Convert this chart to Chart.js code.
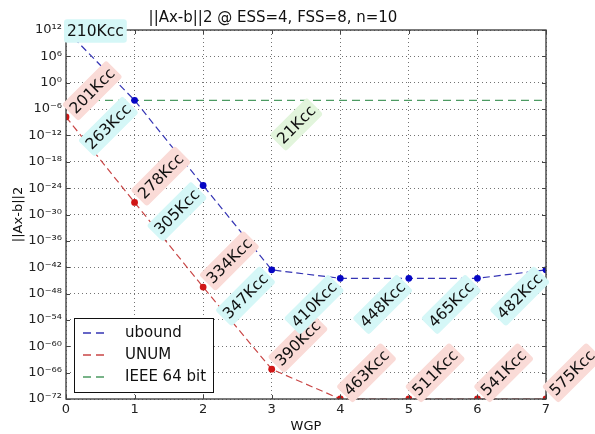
<!DOCTYPE html>
<html>
<head>
<meta charset="utf-8">
<script src="https://cdn.jsdelivr.net/npm/chart.js@4.4.1/dist/chart.umd.min.js"></script>
<style>
html,body{margin:0;padding:0;background:#fff;}
canvas{display:block;}
</style>
</head>
<body>
<canvas id="c" width="595" height="434"></canvas>
<script>
// ---- data ----
const wgp = [0, 1, 2, 3, 4, 5, 6, 7];
const uboundValues = [1e12, 1e-4, 4e-24, 2.5e-43, 3e-45, 3e-45, 3e-45, 2.5e-43];
const unumValues = [1.6e-8, 5.6e-28, 3e-47, 6e-66, 1e-72, 1e-72, 1e-72, 1e-72];
const ieeeValues = [1e-4, 1e-4, 1e-4, 1e-4, 1e-4, 1e-4, 1e-4, 1e-4];
const uboundLabels = ['210Kcc', '263Kcc', '305Kcc', '347Kcc', '410Kcc', '448Kcc', '465Kcc', '482Kcc'];
const unumLabels = ['201Kcc', '278Kcc', '334Kcc', '390Kcc', '463Kcc', '511Kcc', '541Kcc', '575Kcc'];
const ieeeLabel = '21Kcc';
const seriesNames = ['ubound', 'UNUM', 'IEEE 64 bit'];
const xTickValues = [0, 1, 2, 3, 4, 5, 6, 7];
const yTickExponents = [12, 6, 0, -6, -12, -18, -24, -30, -36, -42, -48, -54, -60, -66, -72];
const titleText = '||Ax-b||2 @ ESS=4, FSS=8, n=10';
const xTitleText = 'WGP';
const yTitleText = '||Ax-b||2';

// ---- styling ----
const FONT = '"DejaVu Sans", "Liberation Sans", sans-serif';
const BLUE_LINE = '#3434b4', BLUE_PT = '#0606c4';
const RED_LINE = '#c94646', RED_PT = '#d01616';
const GREEN_LINE = '#4c9a62';
const BG_BLUE = '#d5f7f7', BG_RED = '#fadbd7', BG_GREEN = '#e2f5dc';

const SUP = {'0':'⁰','1':'¹','2':'²','3':'³','4':'⁴','5':'⁵','6':'⁶','7':'⁷','8':'⁸','9':'⁹','-':'⁻'};
function sup(n) { return String(n).split('').map(c => SUP[c] || c).join(''); }

function toPoints(vals) { return wgp.map((x, i) => ({x: x, y: vals[i]})); }

function roundRect(ctx, x, y, w, h, r) {
  ctx.beginPath();
  ctx.moveTo(x + r, y);
  ctx.lineTo(x + w - r, y); ctx.quadraticCurveTo(x + w, y, x + w, y + r);
  ctx.lineTo(x + w, y + h - r); ctx.quadraticCurveTo(x + w, y + h, x + w - r, y + h);
  ctx.lineTo(x + r, y + h); ctx.quadraticCurveTo(x, y + h, x, y + h - r);
  ctx.lineTo(x, y + r); ctx.quadraticCurveTo(x, y, x + r, y);
  ctx.closePath();
}

function drawTag(ctx, text, px, py, mode, bg) {
  const fs = 15.5, pad = 3, h = fs * 1.12;
  ctx.save();
  ctx.font = fs + 'px ' + FONT;
  const w = ctx.measureText(text).width;
  let cx, cy, rot;
  if (mode === 'flat') { cx = px + w / 2 + 1; cy = py + 1; rot = 0; }
  else {
    const B = (w + h) / Math.SQRT2;
    if (mode === 'after') { cx = px + B / 2; cy = py - B / 2; }
    else { cx = px - B / 2; cy = py + B / 2; }
    rot = -Math.PI / 4;
  }
  ctx.translate(cx, cy);
  ctx.rotate(rot);
  ctx.fillStyle = bg;
  roundRect(ctx, -w / 2 - pad, -h / 2 - pad, w + 2 * pad, h + 2 * pad, 3);
  ctx.fill();
  ctx.fillStyle = '#111';
  ctx.textAlign = 'center';
  ctx.textBaseline = 'middle';
  ctx.fillText(text, 0, 1);
  ctx.restore();
}

const decorPlugin = {
  id: 'decor',
  afterDatasetsDraw(chart) {
    const ctx = chart.ctx, ca = chart.chartArea;
    const xs = chart.scales.x, ys = chart.scales.y;
    // frame + inward ticks
    ctx.save();
    ctx.strokeStyle = '#444';
    ctx.lineWidth = 1;
    ctx.beginPath();
    xTickValues.forEach(v => {
      const px = Math.round(xs.getPixelForValue(v)) + 0.5;
      ctx.moveTo(px, ca.top); ctx.lineTo(px, ca.top + 4);
      ctx.moveTo(px, ca.bottom); ctx.lineTo(px, ca.bottom - 4);
    });
    yTickExponents.forEach(e => {
      const py = Math.round(ys.getPixelForValue(Math.pow(10, e))) + 0.5;
      ctx.moveTo(ca.left, py); ctx.lineTo(ca.left + 4, py);
      ctx.moveTo(ca.right, py); ctx.lineTo(ca.right - 4, py);
    });
    ctx.stroke();
    ctx.lineWidth = 1.4;
    ctx.strokeRect(ca.left, ca.top, ca.right - ca.left, ca.bottom - ca.top);
    ctx.restore();

    // annotations
    const mRed = chart.getDatasetMeta(1).data;
    mRed.forEach((p, i) => drawTag(ctx, unumLabels[i], p.x, p.y, 'after', BG_RED));
    const gx = xs.getPixelForValue(3.69), gy = ys.getPixelForValue(ieeeValues[0]) + 1.5;
    drawTag(ctx, ieeeLabel, gx, gy, 'before', BG_GREEN);
    const mBlue = chart.getDatasetMeta(0).data;
    mBlue.forEach((p, i) => drawTag(ctx, uboundLabels[i], p.x, p.y, i === 0 ? 'flat' : 'before', BG_BLUE));

    // legend
    const lx = ca.left + 8, ly = ca.bottom - 81, lw = 139, lh = 74;
    ctx.save();
    ctx.fillStyle = '#fff';
    ctx.fillRect(lx, ly, lw, lh);
    ctx.strokeStyle = '#111';
    ctx.lineWidth = 1;
    ctx.strokeRect(lx + 0.5, ly + 0.5, lw, lh);
    const colors = [BLUE_LINE, RED_LINE, GREEN_LINE];
    ctx.font = '15px ' + FONT;
    ctx.textBaseline = 'middle';
    ctx.textAlign = 'left';
    seriesNames.forEach((name, i) => {
      const yy = ly + 15 + i * 22;
      ctx.strokeStyle = colors[i];
      ctx.lineWidth = 1.3;
      ctx.setLineDash([8, 5]);
      ctx.beginPath(); ctx.moveTo(lx + 9, yy); ctx.lineTo(lx + 31, yy); ctx.stroke();
      ctx.setLineDash([]);
      ctx.fillStyle = '#111';
      ctx.fillText(name, lx + 51, yy);
    });
    ctx.restore();
  }
};

const gridOpts = {color: 'rgba(0,0,0,0.55)', lineWidth: 1, drawTicks: false};

new Chart(document.getElementById('c'), {
  type: 'line',
  data: {
    datasets: [
      {label: seriesNames[0], data: toPoints(uboundValues), borderColor: BLUE_LINE, backgroundColor: BLUE_PT,
       borderWidth: 1.2, borderDash: [7, 4], pointRadius: 3.4, pointBackgroundColor: BLUE_PT, pointBorderWidth: 0, fill: false, tension: 0},
      {label: seriesNames[1], data: toPoints(unumValues), borderColor: RED_LINE, backgroundColor: RED_PT,
       borderWidth: 1.2, borderDash: [7, 4], pointRadius: 3.4, pointBackgroundColor: RED_PT, pointBorderWidth: 0, fill: false, tension: 0},
      {label: seriesNames[2], data: toPoints(ieeeValues), borderColor: GREEN_LINE, backgroundColor: GREEN_LINE,
       borderWidth: 1.3, borderDash: [8, 5], pointRadius: 0, fill: false, tension: 0}
    ]
  },
  options: {
    responsive: false,
    animation: false,
    devicePixelRatio: 1,
    layout: {padding: {left: 0, right: 49, top: 3, bottom: 0}},
    plugins: {
      legend: {display: false},
      tooltip: {enabled: false},
      title: {display: true, text: titleText, color: '#111',
              font: {family: FONT, size: 15, weight: 'normal'}, padding: {top: 6, bottom: 3}}
    },
    scales: {
      x: {
        type: 'linear', min: 0, max: 7,
        afterBuildTicks: s => { s.ticks = xTickValues.map(v => ({value: v})); },
        afterFit: s => { s.height = 35; },
        ticks: {color: '#222', font: {family: FONT, size: 13}, padding: 3, autoSkip: false, maxRotation: 0},
        grid: gridOpts,
        border: {display: false, dash: [1, 3]},
        title: {display: true, text: xTitleText, color: '#111', font: {family: FONT, size: 13}, padding: {top: 0, bottom: 0}}
      },
      y: {
        type: 'logarithmic', min: 1e-72, max: 1e12,
        afterBuildTicks: s => { s.ticks = yTickExponents.map(e => ({value: Math.pow(10, e)})); },
        afterFit: s => { s.width = 66; },
        ticks: {color: '#222', font: {family: FONT, size: 13}, padding: 4, autoSkip: false,
                callback: v => '10' + sup(Math.round(Math.log10(v)))},
        grid: gridOpts,
        border: {display: false, dash: [1, 3]},
        title: {display: true, text: yTitleText, color: '#111', font: {family: FONT, size: 13}, padding: {top: 11, bottom: 0}}
      }
    }
  },
  plugins: [decorPlugin]
});
</script>
</body>
</html>
